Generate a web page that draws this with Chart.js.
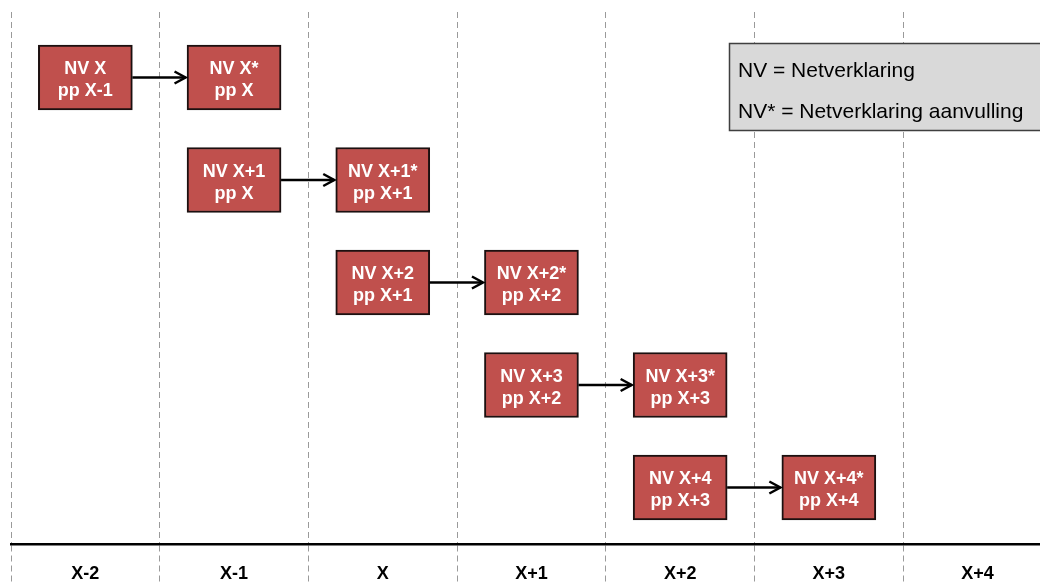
<!DOCTYPE html>
<html>
<head>
<meta charset="utf-8">
<title>Netverklaring</title>
<script src="https://cdn.jsdelivr.net/npm/chart.js@4/dist/chart.umd.min.js"></script>
<style>
html, body { margin: 0; padding: 0; background: #fff; }
#wrap { width: 1040px; height: 583px; }
</style>
</head>
<body>
<div id="wrap"><canvas id="myChart"></canvas></div>
<script>
// periods along the bottom axis
var periods = ['X-2', 'X-1', 'X', 'X+1', 'X+2', 'X+3', 'X+4'];

// one row per netverklaring, source box -> supplement box
var rows = [0, 1, 2, 3, 4];
var fromCol = [0, 1, 2, 3, 4];
var toCol = [1, 2, 3, 4, 5];
var fromText = [['NV X', 'pp X-1'], ['NV X+1', 'pp X'], ['NV X+2', 'pp X+1'], ['NV X+3', 'pp X+2'], ['NV X+4', 'pp X+3']];
var toText = [['NV X*', 'pp X'], ['NV X+1*', 'pp X+1'], ['NV X+2*', 'pp X+2'], ['NV X+3*', 'pp X+3'], ['NV X+4*', 'pp X+4']];

var legendLines = ['NV = Netverklaring', 'NV* = Netverklaring aanvulling'];

var boxHalf = 0.317;
var red = '#C0504D';
var fontFam = '"Liberation Sans", Arial, sans-serif';

function boxes(cols) {
	return rows.map(function(r, i) {
		return { x: cols[i], y: [r - boxHalf, r + boxHalf] };
	});
}

function isBoundary(ctx) {
	return ctx.tick && !Number.isInteger(ctx.tick.value);
}

var drawExtras = {
	id: 'drawExtras',
	afterDatasetsDraw: function(chart) {
		var ctx = chart.ctx;
		var src = chart.getDatasetMeta(0).data;
		var dst = chart.getDatasetMeta(1).data;
		ctx.save();

		// arrows
		ctx.strokeStyle = '#000';
		ctx.lineWidth = 2.5;
		for (var i = 0; i < src.length; i++) {
			var a = src[i].getProps(['x', 'y', 'base', 'width'], true);
			var b = dst[i].getProps(['x', 'y', 'base', 'width'], true);
			var ym = (a.y + a.base) / 2;
			var x1 = a.x + a.width / 2;
			var x2 = b.x - b.width / 2 - 1.5;
			ctx.beginPath();
			ctx.moveTo(x1, ym);
			ctx.lineTo(x2, ym);
			ctx.stroke();
			ctx.beginPath();
			ctx.moveTo(x2 - 11, ym - 6);
			ctx.lineTo(x2, ym);
			ctx.lineTo(x2 - 11, ym + 6);
			ctx.stroke();
		}

		// box labels
		ctx.fillStyle = '#fff';
		ctx.font = 'bold 18px ' + fontFam;
		ctx.textAlign = 'center';
		ctx.textBaseline = 'alphabetic';
		[[src, fromText], [dst, toText]].forEach(function(pair) {
			pair[0].forEach(function(el, j) {
				var p = el.getProps(['x', 'y', 'base'], true);
				var ym = (p.y + p.base) / 2;
				ctx.fillText(pair[1][j][0], p.x, ym - 3.5);
				ctx.fillText(pair[1][j][1], p.x, ym + 18.5);
			});
		});

		// legend box
		ctx.fillStyle = '#D9D9D9';
		ctx.fillRect(729, 43, 320, 88);
		ctx.strokeStyle = '#3f3f3f';
		ctx.lineWidth = 1.5;
		ctx.strokeRect(729.5, 43.5, 320, 87);
		ctx.fillStyle = '#000';
		ctx.font = '21px ' + fontFam;
		ctx.textAlign = 'left';
		ctx.fillText(legendLines[0], 738, 77);
		ctx.fillText(legendLines[1], 738, 118);

		ctx.restore();
	}
};

var config = {
	type: 'bar',
	data: {
		datasets: [{
			label: 'NV',
			data: boxes(fromCol),
			grouped: false,
			barThickness: 94,
			backgroundColor: red,
			borderColor: '#1c1010',
			borderWidth: 2,
			borderSkipped: false
		}, {
			label: 'NV*',
			data: boxes(toCol),
			grouped: false,
			barThickness: 94,
			backgroundColor: red,
			borderColor: '#1c1010',
			borderWidth: 2,
			borderSkipped: false
		}]
	},
	options: {
		animation: false,
		responsive: true,
		maintainAspectRatio: false,
		layout: { padding: { left: 11, top: 12, right: 0, bottom: 0 } },
		plugins: {
			legend: { display: false },
			tooltip: { enabled: false }
		},
		scales: {
			x: {
				type: 'linear',
				position: 'bottom',
				offset: false,
				min: -0.5,
				max: 6.42,
				afterBuildTicks: function(scale) {
					var t = [];
					for (var v = -0.5; v <= 6; v += 0.5) t.push({ value: v });
					scale.ticks = t;
				},
				afterFit: function(scale) { scale.height = 39; },
				grid: {
					offset: false,
					color: function(ctx) { return isBoundary(ctx) ? '#9a9a9a' : 'rgba(0,0,0,0)'; },
					lineWidth: 1,
					drawTicks: true,
					tickLength: 39,
					tickWidth: 1,
					tickColor: function(ctx) { return isBoundary(ctx) ? '#9a9a9a' : 'rgba(0,0,0,0)'; },
					tickBorderDash: [6, 4]
				},
				border: { display: true, color: '#000', width: 2.5, dash: [6, 4] },
				ticks: {
					autoSkip: false,
					maxRotation: 0,
					padding: -19.5,
					color: '#000',
					font: { family: fontFam, size: 18, weight: 'bold' },
					callback: function(v) { return Number.isInteger(v) ? periods[v] : ''; }
				}
			},
			y: {
				type: 'linear',
				display: false,
				reverse: true,
				min: -0.639,
				max: 4.551
			}
		}
	},
	plugins: [drawExtras]
};

window.onload = function() {
	var ctx = document.getElementById('myChart').getContext('2d');
	window.myChart = new Chart(ctx, config);
};
</script>
</body>
</html>
